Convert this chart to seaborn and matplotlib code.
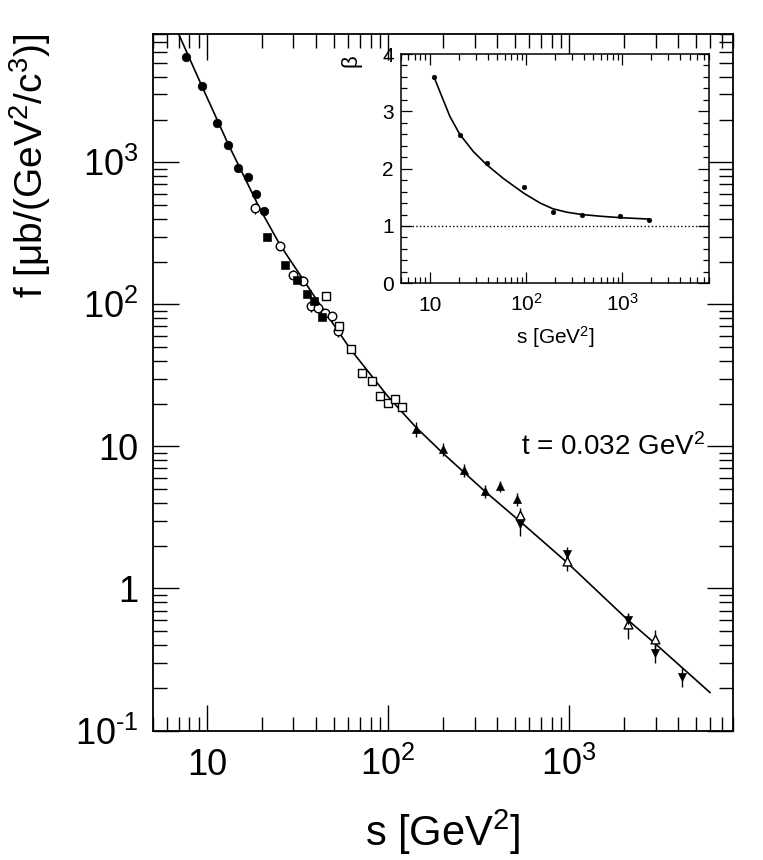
import numpy as np
import pandas as pd
import seaborn as sns
import matplotlib
matplotlib.use("Agg")
import matplotlib.pyplot as plt
from matplotlib.ticker import FixedLocator, FixedFormatter, LogLocator, NullFormatter, MultipleLocator

# main panel data, s in GeV^2, f in mub/(GeV^2/c^3)
fc_s = [7.62, 9.38, 11.3, 13.1, 14.9, 16.9, 18.7, 20.6]          # filled circles
fc_f = [5530, 3460, 1900, 1325, 918, 789, 600, 455]

oc_s = [18.5, 25.3, 29.7, 33.8, 37.3, 41.2, 45.0, 48.8, 52.8]     # open circles
oc_f = [475, 258, 162, 147, 97, 95, 87, 82.5, 64.5]
oc_e = [0.09, 0.07, 0.07, 0.07, 0.09, 0.08, 0.07, 0.07, 0.08]

fs_s = [21.4, 27.0, 31.4, 35.5, 39.1, 43.0]                       # filled squares
fs_f = [300, 188, 149, 119, 105, 82]

os_s = [45.6, 53.5, 62.5, 71.8, 81.5, 90.3, 100, 109.7, 119.4]    # open squares
os_f = [114, 70, 48.5, 32.9, 28.8, 22.5, 20.1, 21.5, 19.0]
os_e = [0.06, 0.07, 0.05, 0.05, 0.05, 0.05, 0.05, 0.05, 0.05]

tu_s = [142, 200, 264, 341, 416, 512]                             # filled triangles up
tu_f = [13.2, 9.6, 6.8, 4.85, 5.25, 4.25]
tu_e = [0.12, 0.11, 0.11, 0.11, 0.09, 0.11]

to_s = [535, 970, 2110, 2980]                                     # open triangles up
to_f = [3.3, 1.57, 0.56, 0.44]
to_e = [0.11, 0.15, 0.21, 0.16]

td_s = [538, 970, 2110, 2980, 4220]                               # filled triangles down
td_f = [2.85, 1.76, 0.605, 0.352, 0.24]
td_e = [0.18, 0.12, 0.09, 0.15, 0.15]

fit_s = [7.0, 9.4, 13.1, 19.6, 25.3, 38.6, 62.2, 100, 142, 200, 340, 530, 970, 2110, 2980, 6000]
fit_f = [7900, 3400, 1340, 470, 262, 117, 48, 22.4, 13.7, 9.0, 4.87, 3.0, 1.53, 0.60, 0.41, 0.185]

# inset: beta vs s
b_s = [11.2, 20.5, 39, 95, 190, 380, 946, 1900]
b_v = [3.60, 2.59, 2.09, 1.68, 1.24, 1.20, 1.18, 1.10]
bfit_s = [11.2, 13.2, 16.2, 20.5, 28.3, 38.9, 58, 95, 140, 190, 265, 380, 590, 946, 1900]
bfit_v = [3.58, 3.28, 2.91, 2.60, 2.30, 2.07, 1.83, 1.57, 1.40, 1.30, 1.24, 1.20, 1.17, 1.145, 1.12]

x_labels = ['10', r'$\mathregular{10^{2}}$', r'$\mathregular{10^{3}}$']
y_labels = [r'$\mathregular{10^{\text{-}1}}$', '1', '10', r'$\mathregular{10^{2}}$', r'$\mathregular{10^{3}}$']

sns.set_theme(style="ticks")
plt.rcParams['font.family'] = ['Liberation Sans', 'DejaVu Sans']
plt.rcParams['mathtext.fontset'] = 'custom'
plt.rcParams['mathtext.rm'] = 'Liberation Sans'
plt.rcParams['mathtext.it'] = 'Liberation Sans:italic'
plt.rcParams['mathtext.bf'] = 'Liberation Sans:bold'
plt.rcParams['axes.edgecolor'] = 'black'
plt.rcParams['text.color'] = 'black'
plt.rcParams['xtick.color'] = 'black'
plt.rcParams['ytick.color'] = 'black'
plt.rcParams['axes.labelcolor'] = 'black'

fig = plt.figure(figsize=(7.63, 8.6), dpi=100)
ax = fig.add_axes([0.1999, 0.1505, 0.7604, 0.81])
ax.set_xscale('log')
ax.set_yscale('log')

sns.lineplot(x=fit_s, y=fit_f, ax=ax, color='black', lw=1.2, sort=False, estimator=None)

def errs(xs, ys, rel):
    ax.errorbar(xs, ys, yerr=np.array(ys) * np.array(rel), fmt='none', ecolor='black', elinewidth=1.0, zorder=2)

errs(oc_s, oc_f, oc_e)
errs(os_s, os_f, os_e)
errs(tu_s, tu_f, tu_e)
errs(to_s, to_f, to_e)
errs(td_s, td_f, td_e)

sns.scatterplot(x=fc_s, y=fc_f, ax=ax, marker='o', s=38, color='black', edgecolor='black', zorder=3)
sns.scatterplot(x=oc_s, y=oc_f, ax=ax, marker='o', s=38, color='white', edgecolor='black', linewidth=1, zorder=3)
sns.scatterplot(x=fs_s, y=fs_f, ax=ax, marker='s', s=32, color='black', edgecolor='black', zorder=3)
sns.scatterplot(x=os_s, y=os_f, ax=ax, marker='s', s=34, color='white', edgecolor='black', linewidth=1, zorder=3)
sns.scatterplot(x=tu_s, y=tu_f, ax=ax, marker='^', s=34, color='black', edgecolor='black', zorder=3)
sns.scatterplot(x=to_s, y=to_f, ax=ax, marker='^', s=40, color='white', edgecolor='black', linewidth=1, zorder=3)
sns.scatterplot(x=td_s, y=td_f, ax=ax, marker='v', s=34, color='black', edgecolor='black', zorder=3)

ax.set_xlim(5, 8000)
ax.set_ylim(0.1, 8000)
for sp in ax.spines.values():
    sp.set_linewidth(1.3)

ax.xaxis.set_major_locator(FixedLocator([10, 100, 1000]))
ax.xaxis.set_major_formatter(FixedFormatter(x_labels))
ax.xaxis.set_minor_locator(LogLocator(base=10, subs=np.arange(2, 10), numticks=20))
ax.xaxis.set_minor_formatter(NullFormatter())
ax.yaxis.set_major_locator(FixedLocator([0.1, 1, 10, 100, 1000]))
ax.yaxis.set_major_formatter(FixedFormatter(y_labels))
ax.yaxis.set_minor_locator(LogLocator(base=10, subs=np.arange(2, 10), numticks=20))
ax.yaxis.set_minor_formatter(NullFormatter())
ax.tick_params(which='both', direction='in', top=True, right=True, width=1.0)
ax.tick_params(which='major', length=19, labelsize=26)
ax.tick_params(which='minor', length=10)
ax.tick_params(axis='x', which='major', pad=32)
ax.tick_params(axis='y', which='major', pad=10)
for lab in ax.get_xticklabels():
    lab.set_verticalalignment('baseline')
for lab in ax.get_yticklabels():
    lab.set_verticalalignment('center_baseline')

ax.set_xlabel(r'$\mathregular{s\ [GeV^{2}]}$', fontsize=30)
ax.xaxis.set_label_coords(0.5, -0.11)
ax.set_ylabel(r'f [$\mathregular{\mu}$b/(GeV$^{2}$/c$^{3}$)]', fontsize=28, loc='top')
ax.yaxis.set_label_coords(-0.1715, 1.0)

ax.text(0.952, 0.407, 't = 0.032 GeV$^{2}$', transform=ax.transAxes,
        ha='right', va='center', fontsize=20)

# inset
ax2 = fig.add_axes([0.5252, 0.6706, 0.4045, 0.2666])
ax2.set_xscale('log')
ax2.axhline(1.0, ls=':', color='black', lw=1.0)
sns.lineplot(x=bfit_s, y=bfit_v, ax=ax2, color='black', lw=1.2, sort=False, estimator=None)
sns.scatterplot(x=b_s, y=b_v, ax=ax2, marker='o', s=12, color='black', edgecolor='black', zorder=3)
ax2.set_xlim(5, 8000)
ax2.set_ylim(0, 4)
for sp in ax2.spines.values():
    sp.set_linewidth(1.1)
ax2.xaxis.set_major_locator(FixedLocator([10, 100, 1000]))
ax2.xaxis.set_major_formatter(FixedFormatter(x_labels))
ax2.xaxis.set_minor_locator(LogLocator(base=10, subs=np.arange(2, 10), numticks=20))
ax2.xaxis.set_minor_formatter(NullFormatter())
ax2.yaxis.set_major_locator(FixedLocator([0, 1, 2, 3, 4]))
ax2.yaxis.set_minor_locator(MultipleLocator(0.2))
ax2.tick_params(which='both', direction='in', top=True, right=True, width=0.9)
ax2.tick_params(which='major', length=8, labelsize=15)
ax2.tick_params(which='minor', length=4)
ax2.tick_params(axis='x', which='major', pad=20)
ax2.tick_params(axis='y', which='major', pad=5)
for lab in ax2.get_xticklabels():
    lab.set_verticalalignment('baseline')
for lab in ax2.get_yticklabels():
    lab.set_verticalalignment('center_baseline')
ax2.set_xlabel(r'$\mathregular{s\ [GeV^{2}]}$', fontsize=15)
ax2.xaxis.set_label_coords(0.5, -0.18)
ax2.set_ylabel('β', fontsize=16, loc='top')
ax2.yaxis.set_label_coords(-0.128, 1.0)

fig.savefig("out.png", dpi=100)
